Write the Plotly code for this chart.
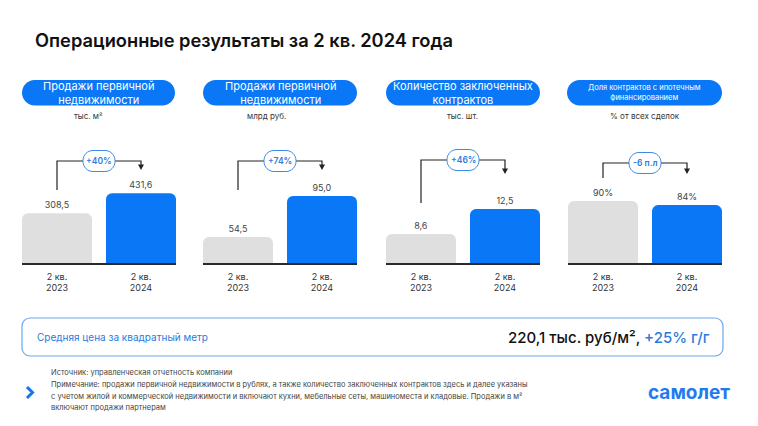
import plotly.graph_objects as go

W, H = 758, 426

# ---------------- data ----------------
categories = ["2 кв.<br>2023", "2 кв.<br>2024"]
panel_titles = [
    "Продажи первичной<br>недвижимости",
    "Продажи первичной<br>недвижимости",
    "Количество заключенных<br>контрактов",
    "Доля контрактов с ипотечным<br>финансированием",
]
units = ["тыс. м²", "млрд руб.", "тыс. шт.", "% от всех сделок"]
values_2023 = [308.5, 54.5, 8.6, 90]
values_2024 = [431.6, 95.0, 12.5, 84]
changes = ["+40%", "+74%", "+46%", "-6 п.л"]
value_formats = ["%{y:.1f}", "%{y:.1f}", "%{y:.1f}", "%{y:.0f}%"]

title_text = "Операционные результаты за 2 кв. 2024 года"
price_label = "Средняя цена за квадратный метр"
price_value = "220,1 тыс. руб/м²,"
price_change = "+25% г/г"
footnotes = [
    "Источник: управленческая отчетность компании",
    "Примечание: продажи первичной недвижимости в рублях, а также количество заключенных контрактов здесь и далее указаны",
    "с учетом жилой и коммерческой недвижимости и включают кухни, мебельные сеты, машиноместа и кладовые. Продажи в м²",
    "включают продажи партнерам",
]
logo = "самолет"

# ---------------- style ----------------
FONT = "Inter"
BLUE = "#0A78F6"
GRAY = "#DFDFDF"
ACCENT = "#2A7BDC"
panel_px = [(22, 176), (203, 357), (386, 540), (568, 722)]
header_px = [(22, 175), (203, 357), (386, 540), (567, 722)]
unit_x = [88, 266, 462, 645]
yranges = [(0, 700), (28.8, 140.4), (4.07, 21.7), (0, 164)]
bracket_y = [161, 161, 160, 163]
tip_y = [170, 170, 174, 174]
left_end_y = [190, 190, 203, 178]
header_font = [11, 11, 11, 7.5]
BASE_PY, TOP_PY = 263, 150


def X(px):
    return px / W


def Y(py):
    return 1 - py / H


K = 0.5523


def rpath(x0, x1, yt, yb, rx, ry):
    # rounded rectangle, yt > yb
    return (
        f"M {x0+rx},{yt} L {x1-rx},{yt} "
        f"C {x1-rx+K*rx},{yt} {x1},{yt-ry+K*ry} {x1},{yt-ry} "
        f"L {x1},{yb+ry} "
        f"C {x1},{yb+ry-K*ry} {x1-rx+K*rx},{yb} {x1-rx},{yb} "
        f"L {x0+rx},{yb} "
        f"C {x0+rx-K*rx},{yb} {x0},{yb+ry-K*ry} {x0},{yb+ry} "
        f"L {x0},{yt-ry} "
        f"C {x0},{yt-ry+K*ry} {x0+rx-K*rx},{yt} {x0+rx},{yt} Z"
    )


fig = go.Figure()
shapes = []
annotations = []
layout_axes = {}

for i in range(4):
    s = "" if i == 0 else str(i + 1)
    fig.add_trace(go.Bar(
        x=[0, 1], y=[values_2023[i], values_2024[i]],
        xaxis="x" + s, yaxis="y" + s,
        marker=dict(color=[GRAY, BLUE], cornerradius=6, line=dict(width=0)),
        texttemplate=value_formats[i], textposition="outside",
        outsidetextfont=dict(size=9, color="#444", family=FONT),
        cliponaxis=False, hoverinfo="skip", showlegend=False,
    ))
    l, r = panel_px[i]
    layout_axes["xaxis" + s] = dict(
        domain=[X(l), X(r)], anchor="y" + s, range=[-5 / 12, 17 / 12],
        tickvals=[0, 1], ticktext=categories, ticks="", ticklabelstandoff=4,
        tickfont=dict(size=9, color="#333", family=FONT),
        showline=True, linecolor="#2B2B2B", linewidth=1.5,
        showgrid=False, zeroline=False, fixedrange=True,
    )
    layout_axes["yaxis" + s] = dict(
        domain=[Y(BASE_PY), Y(TOP_PY)], anchor="x" + s, range=list(yranges[i]),
        visible=False, fixedrange=True,
    )

    # header pill
    hl, hr = header_px[i]
    shapes.append(dict(type="path", xref="paper", yref="paper",
                       path=rpath(X(hl), X(hr), Y(80), Y(105.5), 12.7 / W, 12.7 / H),
                       fillcolor=BLUE, line=dict(width=0), layer="above"))
    annotations.append(dict(xref="paper", yref="paper", x=X((hl + hr) / 2), y=Y(93),
                            text=panel_titles[i], showarrow=False,
                            font=dict(size=header_font[i], color="white", family=FONT),
                            xanchor="center", yanchor="middle", align="center"))
    annotations.append(dict(xref="paper", yref="paper", x=X(unit_x[i]), y=Y(116),
                            text=units[i], showarrow=False,
                            font=dict(size=8, color="#333", family=FONT),
                            xanchor="center", yanchor="middle"))

    # bracket connecting bars (x in data units of this panel)
    xr = "x" + s
    hy, ty, ly = Y(bracket_y[i]), Y(tip_y[i]), Y(left_end_y[i])
    shapes.append(dict(type="path", xref=xr, yref="paper",
                       path=f"M 0,{ly} L 0,{hy} L 1,{hy} L 1,{ty + 4 / H}",
                       line=dict(color="#222", width=1.2), layer="above"))
    shapes.append(dict(type="path", xref=xr, yref="paper",
                       path=f"M {1 - 3 / 84},{ty + 5.5 / H} L {1 + 3 / 84},{ty + 5.5 / H} L 1,{ty} Z",
                       fillcolor="#222", line=dict(width=0), layer="above"))
    pw, ph = 16 / 84, 10.5
    shapes.append(dict(type="path", xref=xr, yref="paper",
                       path=rpath(0.5 - pw, 0.5 + pw, Y(bracket_y[i] - ph), Y(bracket_y[i] + ph),
                                  10 / 84, 10 / H),
                       fillcolor="white", line=dict(color="#3A8BE3", width=1), layer="above"))
    annotations.append(dict(xref=xr, yref="paper", x=0.5, y=hy, text=changes[i],
                            showarrow=False, xanchor="center", yanchor="middle",
                            font=dict(size=8.5, color=ACCENT, family=FONT, weight=600)))

# title
annotations.append(dict(xref="paper", yref="paper", x=X(33), y=Y(40), text=title_text,
                        showarrow=False, xanchor="left", yanchor="middle",
                        font=dict(size=18.3, color="#111", family=FONT, weight=600)))

# price box
shapes.append(dict(type="path", xref="paper", yref="paper",
                   path=rpath(X(22), X(723), Y(318), Y(356), 8 / W, 8 / H),
                   fillcolor="white", line=dict(color="#6AA8EA", width=1.2), layer="below"))
annotations.append(dict(xref="paper", yref="paper", x=X(35), y=Y(337), text=price_label,
                        showarrow=False, xanchor="left", yanchor="middle",
                        font=dict(size=10, color=ACCENT, family=FONT)))
annotations.append(dict(xref="paper", yref="paper", x=X(712), y=Y(337),
                        text=f"{price_value} <span style='color:{ACCENT}'>{price_change}</span>",
                        showarrow=False, xanchor="right", yanchor="middle",
                        font=dict(size=15, color="#111", family=FONT, weight=500)))

# footnotes
for j, (line, py) in enumerate(zip(footnotes, [372, 384, 396, 407])):
    annotations.append(dict(xref="paper", yref="paper", x=X(49), y=Y(py), text=line,
                            showarrow=False, xanchor="left", yanchor="middle",
                            font=dict(size=7.5, color="#444", family=FONT)))

# chevron
shapes.append(dict(type="path", xref="paper", yref="paper",
                   path=f"M {X(27)},{Y(387)} L {X(32.5)},{Y(392.5)} L {X(27)},{Y(398)}",
                   line=dict(color="#1A73E8", width=3), layer="above"))

# logo
annotations.append(dict(xref="paper", yref="paper", x=X(689), y=Y(392), text=logo,
                        showarrow=False, xanchor="center", yanchor="middle",
                        font=dict(size=19, color="#1E7BEF", family=FONT, weight=700)))

fig.update_layout(
    width=W, height=H, margin=dict(l=0, r=0, t=0, b=0),
    paper_bgcolor="white", plot_bgcolor="white",
    bargap=1 / 6, separators=", ",
    font=dict(family=FONT),
    shapes=shapes, annotations=annotations, showlegend=False,
    **layout_axes,
)

fig.write_html("out.html", config={"displayModeBar": False})
